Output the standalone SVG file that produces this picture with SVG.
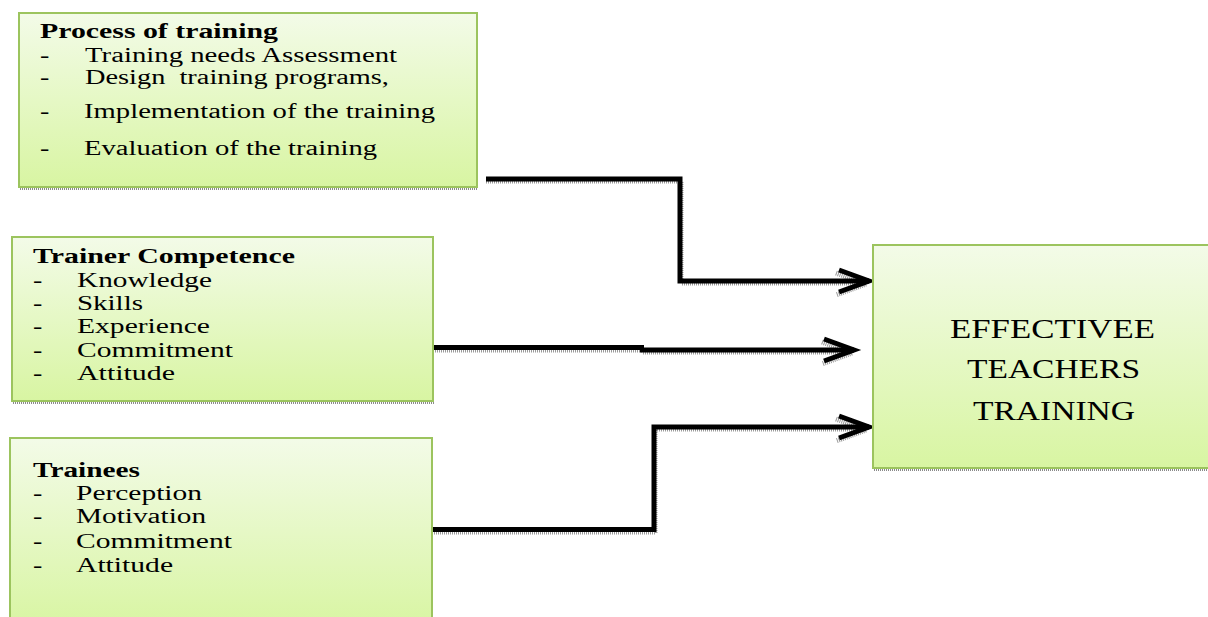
<svg xmlns="http://www.w3.org/2000/svg" width="1208" height="617" viewBox="0 0 1208 617">
<defs>
<linearGradient id="g" x1="0" y1="0" x2="0" y2="1">
<stop offset="0" stop-color="#f3fbe8"/>
<stop offset="1" stop-color="#d8f5a2"/>
</linearGradient>
<marker id="ah" markerUnits="userSpaceOnUse" viewBox="-40 -20 50 40" markerWidth="50" markerHeight="40" refX="0" refY="0" orient="auto">
<path d="M-30 -11 L0 0 L-30 11" fill="none" stroke="#000" stroke-width="5" stroke-linejoin="miter"/>
</marker>
<marker id="ahs" markerUnits="userSpaceOnUse" viewBox="-40 -20 50 40" markerWidth="50" markerHeight="40" refX="0" refY="0" orient="auto">
<path d="M-30 -11 L0 0 L-30 11" fill="none" stroke="#9a9a9a" stroke-width="5" stroke-dasharray="1 1"/>
</marker>
</defs>
<style>
.box{fill:url(#g);stroke:#9cc45e;stroke-width:2}
.sh{fill:none;stroke:#8a8a8a;stroke-width:2;stroke-dasharray:1 1}
.t{font-family:"Liberation Serif","Times New Roman",serif;font-size:20px;fill:#000}
.b{font-weight:bold}
.big{font-family:"Liberation Serif","Times New Roman",serif;font-size:27px;fill:#000}
.c{fill:none;stroke:#000;stroke-width:5}
.cs{fill:none;stroke:#9a9a9a;stroke-width:3;stroke-dasharray:1 1}
</style>

<g id="connectors">
<path class="cs" d="M486 182 H682 V284 H866" marker-end="url(#ahs)"/>
<path class="cs" d="M433 351 H643 M643 353 H852" marker-end="url(#ahs)"/>
<path class="cs" d="M432 533 H656 V430 H866" marker-end="url(#ahs)"/>
<path class="c" d="M486 179 H680 V281 H869" marker-end="url(#ah)"/>
<path class="c" d="M433 347.5 H644"/>
<path class="c" d="M640 350 H854" marker-end="url(#ah)"/>
<path class="c" d="M432 529.5 H654 V427 H869" marker-end="url(#ah)"/>
</g>

<g id="process">
<line class="sh" x1="20" y1="189" x2="478" y2="189"/>
<rect class="box" x="19" y="13" width="458" height="174"/>
<text class="t b" transform="translate(40,38) scale(1.4,1)" textLength="170" lengthAdjust="spacingAndGlyphs">Process of training</text>
<text class="t" transform="translate(40,62) scale(1.4,1)">-</text>
<text class="t" transform="translate(85,62) scale(1.4,1)" textLength="222.9" lengthAdjust="spacingAndGlyphs">Training needs Assessment</text>
<text class="t" transform="translate(40,84) scale(1.4,1)">-</text>
<text class="t" transform="translate(85,84) scale(1.4,1)" textLength="217.1" lengthAdjust="spacingAndGlyphs" xml:space="preserve">Design  training programs,</text>
<text class="t" transform="translate(40,118) scale(1.4,1)">-</text>
<text class="t" transform="translate(84,118) scale(1.4,1)" textLength="250.7" lengthAdjust="spacingAndGlyphs">Implementation of the training</text>
<text class="t" transform="translate(40,155) scale(1.4,1)">-</text>
<text class="t" transform="translate(84,155) scale(1.4,1)" textLength="209.3" lengthAdjust="spacingAndGlyphs">Evaluation of the training</text>
</g>

<g id="trainer">
<line class="sh" x1="13" y1="403" x2="434" y2="403"/>
<rect class="box" x="12" y="237" width="421" height="164"/>
<text class="t b" transform="translate(33,263) scale(1.4,1)" textLength="187.1" lengthAdjust="spacingAndGlyphs">Trainer Competence</text>
<text class="t" transform="translate(33,287) scale(1.4,1)">-</text>
<text class="t" transform="translate(77,287) scale(1.4,1)" textLength="96.4" lengthAdjust="spacingAndGlyphs">Knowledge</text>
<text class="t" transform="translate(33,310) scale(1.4,1)">-</text>
<text class="t" transform="translate(77,310) scale(1.4,1)" textLength="47.1" lengthAdjust="spacingAndGlyphs">Skills</text>
<text class="t" transform="translate(33,333) scale(1.4,1)">-</text>
<text class="t" transform="translate(77,333) scale(1.4,1)" textLength="95" lengthAdjust="spacingAndGlyphs">Experience</text>
<text class="t" transform="translate(33,357) scale(1.4,1)">-</text>
<text class="t" transform="translate(77,357) scale(1.4,1)" textLength="111.4" lengthAdjust="spacingAndGlyphs">Commitment</text>
<text class="t" transform="translate(33,380) scale(1.4,1)">-</text>
<text class="t" transform="translate(77,380) scale(1.4,1)" textLength="70" lengthAdjust="spacingAndGlyphs">Attitude</text>
</g>

<g id="trainees">
<rect class="box" x="10" y="438" width="422" height="190"/>
<text class="t b" transform="translate(33,477) scale(1.4,1)" textLength="76.4" lengthAdjust="spacingAndGlyphs">Trainees</text>
<text class="t" transform="translate(33,500) scale(1.4,1)">-</text>
<text class="t" transform="translate(76,500) scale(1.4,1)" textLength="90" lengthAdjust="spacingAndGlyphs">Perception</text>
<text class="t" transform="translate(33,523) scale(1.4,1)">-</text>
<text class="t" transform="translate(76,523) scale(1.4,1)" textLength="92.9" lengthAdjust="spacingAndGlyphs">Motivation</text>
<text class="t" transform="translate(33,548) scale(1.4,1)">-</text>
<text class="t" transform="translate(76,548) scale(1.4,1)" textLength="111.4" lengthAdjust="spacingAndGlyphs">Commitment</text>
<text class="t" transform="translate(33,572) scale(1.4,1)">-</text>
<text class="t" transform="translate(76,572) scale(1.4,1)" textLength="69.3" lengthAdjust="spacingAndGlyphs">Attitude</text>
</g>

<g id="effective">
<line class="sh" x1="874" y1="470" x2="1208" y2="470"/>
<rect class="box" x="873" y="245" width="345" height="223"/>
<text class="big" transform="translate(950,338) scale(1.3,1)" textLength="157.7" lengthAdjust="spacingAndGlyphs">EFFECTIVEE</text>
<text class="big" transform="translate(967,378) scale(1.3,1)" textLength="133.1" lengthAdjust="spacingAndGlyphs">TEACHERS</text>
<text class="big" transform="translate(973,420) scale(1.3,1)" textLength="124.6" lengthAdjust="spacingAndGlyphs">TRAINING</text>
</g>
</svg>
